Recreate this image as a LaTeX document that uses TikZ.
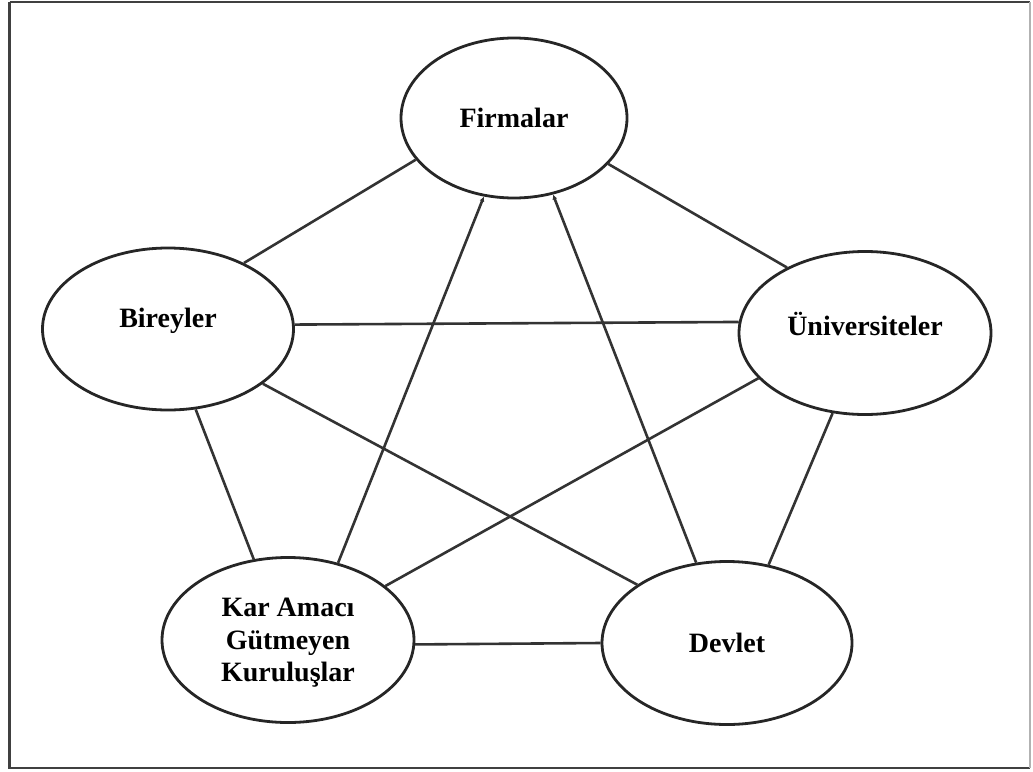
\documentclass[tikz,border=0pt]{standalone}
\usepackage{fontspec}
\setmainfont{Liberation Serif}
\usetikzlibrary{shapes.geometric,arrows.meta}
\tikzset{
  ell/.style={ellipse, draw=black!85, line width=2.8pt, inner sep=0pt, align=center,
    font=\fontsize{28}{32.5}\selectfont\bfseries},
  link/.style={draw=black!80, line width=2.6pt},
  tip/.style={link, -{Latex[length=5pt,width=5pt]}},
  frame/.style={draw=black!75, line width=2.8pt}
}
\begin{document}
\begin{tikzpicture}[x=1pt,y=-1pt]
\useasboundingbox (0,0) rectangle (1033,771);
\draw[frame] (9.5,2) -- (1030,2);
\draw[frame] (9.5,2) -- (9.5,768) -- (1030,768);
\draw[draw=black!30, line width=1.5pt] (1030,2) -- (1030,768);

\node[ell, minimum width=226pt, minimum height=160pt] (F) at (514,118) {Firmalar};
\node[ell, minimum width=251pt, minimum height=162pt] (B) at (168,329) {\raisebox{8.5pt}[\height][\depth]{Bireyler}};
\node[ell, minimum width=252pt, minimum height=163pt] (U) at (865,333) {\raisebox{9pt}[\height][\depth]{Üniversiteler}};
\node[ell, minimum width=252pt, minimum height=165pt] (K) at (288,640) {\raisebox{-3pt}[\height][\depth]{Kar Amacı}\\[0pt]\raisebox{-3pt}[\height][\depth]{Gütmeyen}\\[0pt]\raisebox{-3pt}[\height][\depth]{Kuruluşlar}};
\node[ell, minimum width=250pt, minimum height=163pt] (D) at (727,643) {Devlet};

\draw[link] (F.203.4) -- (B.41.8);
\draw[link] (F.334.1) -- (U.140.2);
\draw[tip]  (K.57.4) -- (F.249.7);
\draw[tip]  (D.111.4) -- (F.297.1);
\draw[link] (B.2.3) -- (U.175.9);
\draw[link] (B.330.1) -- (D.147.2);
\draw[link] (B.289.9) -- (K.113);
\draw[link] (U.203.5) -- (K.29.1);
\draw[link] (U.248.7) -- (D.62);
\draw[link] (K.358.2) -- (D.180.5);
\end{tikzpicture}
\end{document}
